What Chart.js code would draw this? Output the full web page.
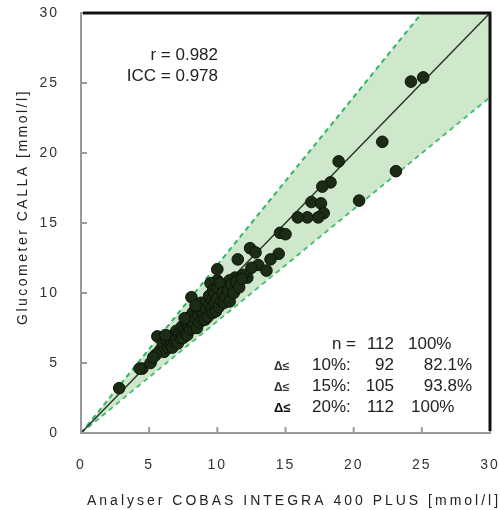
<!DOCTYPE html>
<html>
<head>
<meta charset="utf-8">
<script src="https://cdn.jsdelivr.net/npm/chart.js@4.4.1/dist/chart.umd.min.js"></script>
<style>
  html, body { margin: 0; padding: 0; background: #fff; }
  canvas { display: block; }
</style>
</head>
<body>
<canvas id="chart" width="500" height="510"></canvas>
<script>
// Analyser (x) vs glucometer (y) readings, mmol/l
const analyser = [
  24.2, 25.1, 22.1, 23.1, 18.9, 18.3, 17.7, 20.4, 16.9, 17.6,
  17.8, 16.6, 15.9, 17.4, 14.6, 15.0, 12.4, 12.8, 14.5, 11.5,
  13.9, 13.0, 12.5, 13.6, 10.0, 12.2, 11.3, 10.9, 10.0, 9.5,
  10.6, 9.7, 10.2, 8.1, 2.8, 4.5, 4.3, 5.1, 5.6, 11.9,
  5.8, 6.0, 6.1, 6.3, 6.4, 6.5, 6.6, 6.7, 6.8, 6.9,
  7.0, 7.0, 7.1, 7.2, 7.3, 7.4, 7.4, 7.5, 7.6, 7.7,
  7.7, 7.8, 7.9, 8.0, 8.0, 8.1, 8.2, 8.2, 8.3, 8.4,
  8.5, 8.5, 8.6, 8.7, 8.8, 8.8, 8.9, 9.0, 9.0, 9.1,
  9.2, 9.2, 9.3, 9.4, 9.4, 9.5, 9.6, 9.6, 9.7, 9.8,
  9.8, 9.9, 10.0, 10.0, 10.1, 10.2, 10.3, 10.4, 10.5, 10.6,
  10.8, 10.9, 11.0, 11.2, 11.4, 11.6, 11.8, 6.2, 5.5, 7.6,
  8.4, 5.3
];
const glucometer = [
  25.1, 25.4, 20.8, 18.7, 19.4, 17.9, 17.6, 16.6, 16.5, 16.4,
  15.7, 15.4, 15.4, 15.4, 14.3, 14.2, 13.2, 12.9, 12.8, 12.4,
  12.4, 12.0, 11.8, 11.6, 11.7, 11.1, 11.1, 10.9, 10.9, 10.7,
  10.4, 10.2, 10.0, 9.7, 3.2, 4.6, 4.6, 5.0, 6.9, 11.3,
  5.9, 6.4, 5.8, 6.6, 6.1, 6.9, 6.3, 6.1, 7.0, 6.5,
  7.3, 6.7, 6.4, 7.1, 6.8, 7.6, 7.0, 6.8, 7.4, 7.9,
  7.1, 7.0, 7.6, 8.3, 7.4, 8.0, 7.5, 8.6, 7.8, 8.2,
  7.5, 8.9, 8.4, 7.9, 8.7, 9.3, 8.1, 9.0, 8.5, 8.1,
  9.4, 8.8, 8.3, 9.8, 9.1, 8.6, 9.5, 8.9, 8.6, 9.9,
  9.3, 8.7, 9.6, 10.4, 9.0, 10.7, 9.4, 10.0, 9.3, 9.7,
  10.2, 9.4, 10.6, 10.0, 10.8, 10.4, 11.0, 7.0, 5.6, 8.2,
  9.1, 5.4
];

// identity line and ±20 % limits
const identityX = [0, 30];
const identityY = [0, 30];
const upperX = [0, 25, 30];
const upperY = [0, 30, 30];
const lowerX = [0, 30];
const lowerY = [0, 24];

const axisTicks = [0, 5, 10, 15, 20, 25, 30];

const statRows = [
  { delta: '',   label: 'n =',  count: '112', pct: '100%',  pctAlign: 'left' },
  { delta: 'Δ≤', label: '10%:', count: '92',  pct: '82.1%', pctAlign: 'right' },
  { delta: 'Δ≤', label: '15%:', count: '105', pct: '93.8%', pctAlign: 'right' },
  { delta: 'Δ≤', label: '20%:', count: '112', pct: '100%',  pctAlign: 'left' }
];

const FONT = "'Liberation Sans', Arial, sans-serif";
const BAND_GREEN = '#2fb56a';

const zip = (xs, ys) => xs.map((x, i) => ({ x, y: ys[i] }));

// fixed axis size, no extra padding for edge labels
const fitAxis = (prop, size) => s => {
  s[prop] = size;
  s.paddingTop = 0;
  s.paddingBottom = 0;
  s.paddingLeft = 0;
  s.paddingRight = 0;
};

const chartDecor = {
  id: 'chartDecor',
  beforeDraw(chart) {
    chart.ctx.letterSpacing = '2px';
  },
  afterDraw(chart) {
    const { ctx, chartArea: a, scales } = chart;
    ctx.save();
    ctx.letterSpacing = '0px';

    // inward tick marks on left and bottom axes
    ctx.strokeStyle = '#9a9a9a';
    ctx.lineWidth = 2;
    axisTicks.forEach(v => {
      const px = scales.x.getPixelForValue(v);
      const py = scales.y.getPixelForValue(v);
      ctx.beginPath();
      ctx.moveTo(px, a.bottom);
      ctx.lineTo(px, a.bottom - 6);
      ctx.moveTo(a.left, py);
      ctx.lineTo(a.left + 6, py);
      ctx.stroke();
    });

    // black frame on top and right (also hides the band edge along the top)
    ctx.strokeStyle = '#111';
    ctx.lineWidth = 3;
    ctx.beginPath();
    ctx.moveTo(a.left + 2, a.top);
    ctx.lineTo(a.right, a.top);
    ctx.lineTo(a.right, a.bottom - 2);
    ctx.stroke();

    // correlation text
    ctx.fillStyle = '#222';
    ctx.font = '17px ' + FONT;
    ctx.textAlign = 'right';
    ctx.textBaseline = 'alphabetic';
    ctx.fillText('r = 0.982', 218, 60);
    ctx.fillText('ICC = 0.978', 218, 81);

    // agreement table
    const baselines = [349, 370, 391, 412];
    statRows.forEach((row, i) => {
      const y = baselines[i];
      ctx.font = (i === 3 ? 'bold 13px ' : 'bold 12px ') + FONT;
      ctx.fillStyle = i === 3 ? '#111' : '#333';
      ctx.textAlign = 'left';
      if (row.delta) ctx.fillText(row.delta, 274, y);
      ctx.font = '17px ' + FONT;
      ctx.fillStyle = '#222';
      if (row.delta) {
        ctx.fillText(row.label, 312, y);
      } else {
        ctx.textAlign = 'right';
        ctx.fillText(row.label, 356, y);
      }
      ctx.textAlign = 'right';
      ctx.fillText(row.count, 394, y);
      if (row.pctAlign === 'right') {
        ctx.fillText(row.pct, 472, y);
      } else {
        ctx.textAlign = 'left';
        ctx.fillText(row.pct, i === 0 ? 408 : 411, y);
      }
    });

    // axis titles with wide letter spacing
    ctx.fillStyle = '#222';
    ctx.font = '14px ' + FONT;
    ctx.letterSpacing = '3px';
    ctx.textAlign = 'left';
    ctx.fillText('Analyser COBAS INTEGRA 400 PLUS [mmol/l]', 87, 505);

    ctx.letterSpacing = '2.5px';
    ctx.translate(23, 207);
    ctx.rotate(-Math.PI / 2);
    ctx.textAlign = 'center';
    ctx.textBaseline = 'middle';
    ctx.fillText('Glucometer CALLA [mmol/l]', 0, 0);
    ctx.restore();
  }
};

new Chart(document.getElementById('chart'), {
  type: 'scatter',
  data: {
    datasets: [
      {
        label: 'Samples',
        data: zip(analyser, glucometer),
        backgroundColor: '#1c2c14',
        borderColor: '#0c140a',
        borderWidth: 1,
        pointRadius: 5.8,
        order: 0
      },
      {
        label: 'Identity',
        data: zip(identityX, identityY),
        showLine: true,
        borderColor: '#2b352b',
        borderWidth: 1.5,
        pointRadius: 0,
        order: 1
      },
      {
        label: '+20%',
        data: zip(upperX, upperY),
        showLine: true,
        borderColor: BAND_GREEN,
        borderWidth: 2,
        borderDash: [5, 4],
        pointRadius: 0,
        fill: '+1',
        backgroundColor: 'rgba(168, 212, 158, 0.55)',
        order: 2
      },
      {
        label: '-20%',
        data: zip(lowerX, lowerY),
        showLine: true,
        borderColor: BAND_GREEN,
        borderWidth: 2,
        borderDash: [5, 4],
        pointRadius: 0,
        order: 3
      }
    ]
  },
  options: {
    responsive: false,
    animation: false,
    layout: { padding: { top: 13, right: 10, left: 0, bottom: 0 } },
    plugins: {
      legend: { display: false },
      tooltip: { enabled: false }
    },
    scales: {
      x: {
        type: 'linear',
        min: 0,
        max: 30,
        afterFit: fitAxis('height', 77),
        grid: { display: false, drawTicks: false },
        border: { display: true, color: '#9a9a9a', width: 2 },
        ticks: {
          stepSize: 5,
          padding: 24,
          color: '#333',
          font: { family: FONT, size: 14 }
        }
      },
      y: {
        type: 'linear',
        min: 0,
        max: 30,
        afterFit: fitAxis('width', 81),
        grid: { display: false, drawTicks: false },
        border: { display: true, color: '#9a9a9a', width: 2 },
        ticks: {
          stepSize: 5,
          padding: 22,
          color: '#333',
          font: { family: FONT, size: 14 }
        }
      }
    }
  },
  plugins: [chartDecor]
});
</script>
</body>
</html>
